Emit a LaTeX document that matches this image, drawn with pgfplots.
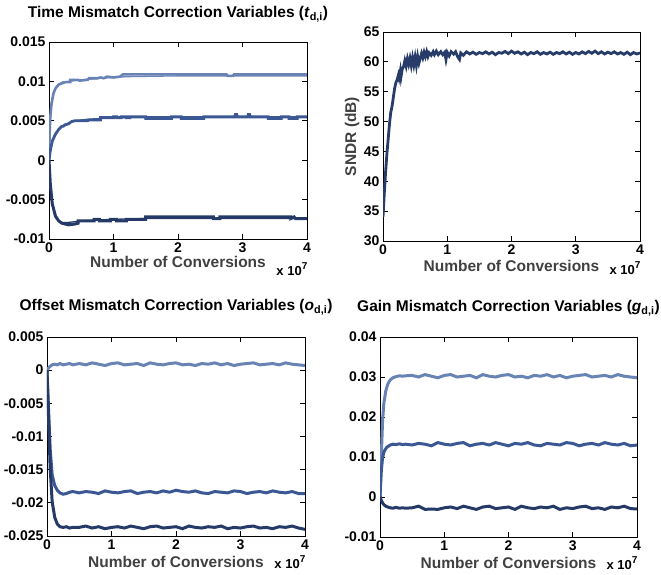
\documentclass[border=0pt]{standalone}
\usepackage{fontspec}
\setmainfont{Liberation Sans}
\usepackage{pgfplots}
\pgfplotsset{compat=1.18}
\usepackage{pgfplotstable}
\definecolor{serL}{RGB}{104,131,180}
\definecolor{serM}{RGB}{60,88,148}
\definecolor{serD}{RGB}{38,58,104}
\definecolor{serS}{RGB}{40,60,105}
\definecolor{labgray}{RGB}{64,64,64}

\pgfplotstableread{
x l m d
0 0 0 0
0.02 0.0003 -0.0050 -0.0060
0.05 0.0006 -0.0120 -0.0150
0.08 0.0008 -0.0158 -0.0198
0.12 0.0009 -0.0174 -0.0222
0.16 0.0008 -0.0181 -0.0232
0.2 0.0010 -0.0185 -0.0236
0.25 0.0008 -0.0187 -0.0237
0.3 0.0009 -0.0186 -0.0236
0.35 0.0010 -0.0184 -0.0238
0.4 0.0008 -0.0183 -0.0237
0.5 0.0010 -0.0185 -0.0237
0.6 0.0008 -0.0183 -0.0235
0.7 0.0011 -0.0184 -0.0238
0.8 0.0009 -0.0186 -0.0236
0.9 0.0007 -0.0182 -0.0239
1.0 0.0010 -0.0184 -0.0237
1.1 0.0011 -0.0185 -0.0236
1.2 0.0008 -0.0183 -0.0238
1.3 0.0009 -0.0182 -0.0235
1.4 0.0010 -0.0186 -0.0237
1.5 0.0007 -0.0184 -0.0239
1.6 0.0011 -0.0183 -0.0236
1.7 0.0009 -0.0185 -0.0235
1.8 0.0008 -0.0182 -0.0238
1.9 0.0010 -0.0184 -0.0237
2.0 0.0011 -0.0181 -0.0236
2.1 0.0008 -0.0183 -0.0239
2.2 0.0009 -0.0184 -0.0235
2.3 0.0007 -0.0182 -0.0237
2.4 0.0010 -0.0185 -0.0238
2.5 0.0009 -0.0186 -0.0236
2.6 0.0011 -0.0183 -0.0237
2.7 0.0008 -0.0184 -0.0235
2.8 0.0010 -0.0185 -0.0239
2.9 0.0007 -0.0182 -0.0237
3.0 0.0009 -0.0183 -0.0238
3.1 0.0010 -0.0186 -0.0236
3.2 0.0011 -0.0184 -0.0235
3.3 0.0008 -0.0183 -0.0238
3.4 0.0009 -0.0185 -0.0237
3.5 0.0010 -0.0182 -0.0239
3.6 0.0008 -0.0184 -0.0236
3.7 0.0011 -0.0185 -0.0237
3.8 0.0009 -0.0183 -0.0235
3.9 0.0008 -0.0186 -0.0238
4.0 0.0007 -0.0186 -0.0240
}\offsettab

\pgfplotstableread{
x l m d
0 0 0 0
0.02 0.0100 0.0065 -0.0008
0.04 0.0190 0.0098 -0.0015
0.06 0.0235 0.0112 -0.0019
0.09 0.0265 0.0121 -0.0023
0.12 0.0282 0.0126 -0.0025
0.16 0.0293 0.0130 -0.0027
0.2 0.0298 0.0132 -0.0028
0.25 0.0301 0.0131 -0.0026
0.3 0.0303 0.0133 -0.0028
0.35 0.0302 0.0131 -0.0027
0.4 0.0303 0.0132 -0.0028
0.5 0.0304 0.0130 -0.0027
0.6 0.0300 0.0134 -0.0023
0.7 0.0306 0.0132 -0.0031
0.8 0.0302 0.0128 -0.0030
0.9 0.0298 0.0136 -0.0031
1.0 0.0304 0.0132 -0.0027
1.1 0.0306 0.0130 -0.0025
1.2 0.0300 0.0134 -0.0029
1.3 0.0302 0.0136 -0.0023
1.4 0.0304 0.0128 -0.0027
1.5 0.0298 0.0132 -0.0031
1.6 0.0306 0.0134 -0.0025
1.7 0.0302 0.0130 -0.0023
1.8 0.0300 0.0136 -0.0029
1.9 0.0304 0.0132 -0.0027
2.0 0.0306 0.0128 -0.0025
2.1 0.0300 0.0134 -0.0031
2.2 0.0302 0.0132 -0.0023
2.3 0.0298 0.0136 -0.0027
2.4 0.0304 0.0130 -0.0029
2.5 0.0302 0.0128 -0.0025
2.6 0.0306 0.0134 -0.0027
2.7 0.0300 0.0132 -0.0023
2.8 0.0304 0.0130 -0.0031
2.9 0.0298 0.0136 -0.0027
3.0 0.0302 0.0134 -0.0029
3.1 0.0304 0.0128 -0.0025
3.2 0.0306 0.0132 -0.0023
3.3 0.0300 0.0134 -0.0029
3.4 0.0302 0.0130 -0.0027
3.5 0.0304 0.0136 -0.0031
3.6 0.0300 0.0132 -0.0025
3.7 0.0306 0.0130 -0.0027
3.8 0.0302 0.0134 -0.0023
3.9 0.0300 0.0128 -0.0029
4.0 0.0298 0.0130 -0.0030
}\gaintab

\pgfplotsset{
  mat/.style={
    scale only axis, xmin=0, xmax=4,
    xtick={0,1,2,3,4}, xticklabels={0,1,2,3,4},
    scaled ticks=false,
    tick align=inside, major tick length=5pt,
    axis line style={line width=0.8pt},
    tick style={black, line width=0.8pt},
    ticklabel style={font=\fontsize{14}{14}\selectfont\bfseries},
    xlabel={Number of Conversions},
    xlabel style={font=\fontsize{15.5}{16}\selectfont\bfseries, text=labgray,
      at={(axis description cs:0.5,0)}, anchor=base},
    title style={font=\fontsize{15.5}{16}\selectfont\bfseries,
      at={(axis description cs:0.5,1)}, anchor=base},
  },
  xten/.style={after end axis/.code={
    \node[anchor=base west, yshift=-#1, font=\fontsize{13}{13}\selectfont\bfseries]
      at (axis description cs:0.868,0) {x 10\raisebox{6pt}{\fontsize{10}{10}\selectfont 7}};}},
}

\begin{document}
\begin{tikzpicture}
\useasboundingbox (0,0) rectangle (661pt,575pt);

% ---------- Time mismatch ----------
\begin{axis}[mat, at={(49pt,336pt)}, anchor=south west, width=258pt, height=197pt,
  ymin=-0.01, ymax=0.015, ytick={-0.01,-0.005,0,0.005,0.01,0.015},
  yticklabels={-0.01,-0.005,0,0.005,0.01,0.015},
  xlabel style={yshift=-29pt}, xten=37pt,
  title={Time Mismatch Correction Variables (\textit{t}\textsubscript{d,i})},
  title style={yshift=18pt}]
\addplot[serL, line width=1.3pt] coordinates {(0,0) (0.01,0.0035) (0.02,0.0055) (0.04,0.0072) (0.07,0.0085) (0.1,0.0091) (0.15,0.0096) (0.2,0.0099) (0.3,0.0100) (0.5,0.0102) (0.8,0.0104) (1.2,0.0106) (2,0.0107) (4,0.0107)};
\addplot[serL, line width=2.6pt] coordinates {(0,0) (0.01,0.0035) (0.02,0.0055) (0.04,0.0072) (0.07,0.0085) (0.1,0.0091) (0.15,0.0096) (0.25,0.0099) (0.33,0.0099) (0.33,0.0102) (0.45,0.0102) (0.47,0.0101) (0.6,0.0102) (0.62,0.0104) (0.75,0.0104) (0.8,0.0105) (0.85,0.0104) (0.9,0.0106) (1.0,0.0105) (1.1,0.0106) (1.15,0.0109) (2.75,0.0109) (2.77,0.0107) (2.85,0.0107) (2.87,0.0109) (4,0.0109)};
\addplot[serM, line width=1.3pt] coordinates {(0,0) (0.02,0.0012) (0.05,0.0024) (0.1,0.0033) (0.15,0.0039) (0.2,0.0043) (0.3,0.0047) (0.4,0.0050) (0.6,0.0052) (0.8,0.0053) (1.0,0.0054) (1.5,0.0055) (4,0.0055)};
\addplot[serM, line width=2.8pt] coordinates {(0,0) (0.02,0.0012) (0.05,0.0024) (0.1,0.0033) (0.15,0.0039) (0.2,0.0043) (0.22,0.0043) (0.25,0.0045) (0.3,0.0046) (0.35,0.0049) (0.4,0.0050) (0.6,0.0050) (0.62,0.0051) (0.8,0.0051) (0.8,0.0054) (1.0,0.0054) (1.0,0.0055) (1.05,0.0055) (1.05,0.0054) (1.12,0.0054) (1.12,0.0055) (1.2,0.0055) (1.2,0.0054) (1.25,0.0054) (1.25,0.0055) (1.5,0.0055) (1.5,0.0053) (1.9,0.0053) (1.9,0.0055) (2.05,0.0055) (2.05,0.0053) (2.4,0.0053) (2.4,0.0055) (2.88,0.0055) (2.89,0.0058) (2.91,0.0058) (2.92,0.0055) (3.08,0.0055) (3.09,0.0058) (3.11,0.0058) (3.12,0.0055) (3.4,0.0055) (3.4,0.0053) (3.6,0.0053) (3.6,0.0055) (3.72,0.0055) (3.72,0.0053) (3.85,0.0053) (3.85,0.0055) (4,0.0055)};
\addplot[serD, line width=1.3pt] coordinates {(0,0) (0.02,-0.003) (0.05,-0.0055) (0.1,-0.0071) (0.15,-0.0077) (0.2,-0.0079) (0.3,-0.0079) (0.5,-0.0077) (1.0,-0.0075) (1.5,-0.0074) (4,-0.0074)};
\addplot[serD, line width=3pt] coordinates {(0,0) (0.02,-0.003) (0.05,-0.0055) (0.1,-0.0071) (0.15,-0.0077) (0.2,-0.0080) (0.25,-0.0081) (0.3,-0.0082) (0.4,-0.0081) (0.45,-0.0080) (0.45,-0.0077) (0.7,-0.0077) (0.7,-0.0075) (0.78,-0.0075) (0.78,-0.0077) (0.95,-0.0077) (0.95,-0.0075) (1.05,-0.0075) (1.05,-0.0077) (1.2,-0.0077) (1.2,-0.0075) (1.5,-0.0075) (1.5,-0.0072) (2.55,-0.0072) (2.55,-0.0074) (2.65,-0.0074) (2.65,-0.0072) (3.75,-0.0072) (3.75,-0.0074) (3.8,-0.0072) (3.82,-0.0074) (4,-0.0074)};
\end{axis}

% ---------- SNDR ----------
\begin{axis}[mat, at={(383pt,334pt)}, anchor=south west, width=257pt, height=209pt,
  ymin=30, ymax=65, ytick={30,35,40,45,50,55,60,65},
  yticklabels={30,35,40,45,50,55,60,65},
  xlabel style={yshift=-31pt}, xten=34pt,
  ylabel={SNDR (dB)},
  ylabel style={font=\fontsize{15.5}{16}\selectfont\bfseries, text=labgray,
    at={(axis description cs:0,0.5)}, anchor=center, yshift=31pt}]
\addplot[serS, line width=2.8pt] coordinates {(0,34) (0.02,38) (0.04,41.5) (0.06,44.5) (0.08,47) (0.1,49.5) (0.12,51.5) (0.14,52.5) (0.16,54) (0.18,55.5) (0.2,56.5) (0.22,57) (0.24,57.8) (0.25,57.3) (0.27,58.5) (0.28,57.5) (0.3,58.8) (0.32,59.2) (0.34,60.2) (0.36,59.3) (0.38,60.5) (0.4,59.6) (0.42,60.6) (0.44,59.4) (0.46,60.7) (0.48,59.5) (0.5,60.8) (0.52,59.4) (0.54,60.9) (0.56,59.8) (0.58,60.6) (0.6,61.4) (0.62,60.7) (0.64,61.6) (0.66,60.9) (0.68,61.7) (0.7,60.9) (0.72,61.5) (0.75,61.1) (0.78,61.7) (0.8,61.2) (0.83,61.8) (0.86,61.2) (0.9,61.7) (0.93,61.2) (0.96,61.6) (0.98,60.4) (1.0,61.6) (1.03,61.0) (1.06,61.7) (1.1,61.3) (1.13,61.7) (1.16,60.9) (1.19,60.4) (1.21,61.5) (1.25,61.1) (1.3,61.68) (1.35,61.32) (1.4,61.62) (1.45,61.26) (1.5,61.56) (1.55,61.38) (1.6,61.68) (1.65,61.32) (1.7,61.62) (1.75,61.2) (1.8,61.56) (1.85,61.44) (1.9,61.74) (1.95,61.38) (2.0,61.8) (2.05,61.44) (2.1,61.68) (2.15,61.32) (2.2,61.62) (2.25,61.2) (2.3,61.56) (2.35,61.38) (2.4,61.68) (2.45,61.26) (2.5,61.56) (2.55,61.32) (2.6,61.62) (2.65,61.26) (2.7,61.56) (2.75,61.38) (2.8,61.68) (2.85,61.32) (2.9,61.62) (2.95,61.26) (3.0,61.56) (3.05,61.32) (3.1,61.68) (3.15,61.38) (3.2,61.74) (3.25,61.44) (3.3,61.8) (3.35,61.38) (3.4,61.68) (3.45,61.32) (3.5,61.62) (3.55,61.38) (3.6,61.68) (3.65,61.32) (3.7,61.56) (3.75,61.26) (3.8,61.62) (3.85,61.2) (3.9,61.56) (3.95,61.32) (4.0,61.5)};
\end{axis}

% ---------- Offset mismatch ----------
\begin{axis}[mat, at={(47pt,39pt)}, anchor=south west, width=258pt, height=199pt,
  ymin=-0.025, ymax=0.005, ytick={-0.025,-0.02,-0.015,-0.01,-0.005,0,0.005},
  yticklabels={-0.025,-0.02,-0.015,-0.01,-0.005,0,0.005},
  xlabel style={yshift=-32pt}, xten=33pt,
  title={Offset Mismatch Correction Variables (\textit{o}\textsubscript{d,i})},
  title style={yshift=20pt}]
\addplot[serL, line width=3pt] table[x=x, y=l] {\offsettab};
\addplot[serM, line width=3pt] table[x=x, y=m] {\offsettab};
\addplot[serD, line width=3pt] table[x=x, y=d] {\offsettab};
\end{axis}

% ---------- Gain mismatch ----------
\begin{axis}[mat, at={(380pt,38pt)}, anchor=south west, width=257pt, height=200pt,
  ymin=-0.01, ymax=0.04, ytick={-0.01,0,0.01,0.02,0.03,0.04},
  yticklabels={-0.01,0,0.01,0.02,0.03,0.04},
  xlabel style={yshift=-32pt}, xten=33pt,
  title={Gain Mismatch Correction Variables (\textit{g}\textsubscript{d,i})},
  title style={yshift=19pt}]
\addplot[serL, line width=3pt] table[x=x, y=l] {\gaintab};
\addplot[serM, line width=3pt] table[x=x, y=m] {\gaintab};
\addplot[serD, line width=3pt] table[x=x, y=d] {\gaintab};
\end{axis}
\end{tikzpicture}
\end{document}
